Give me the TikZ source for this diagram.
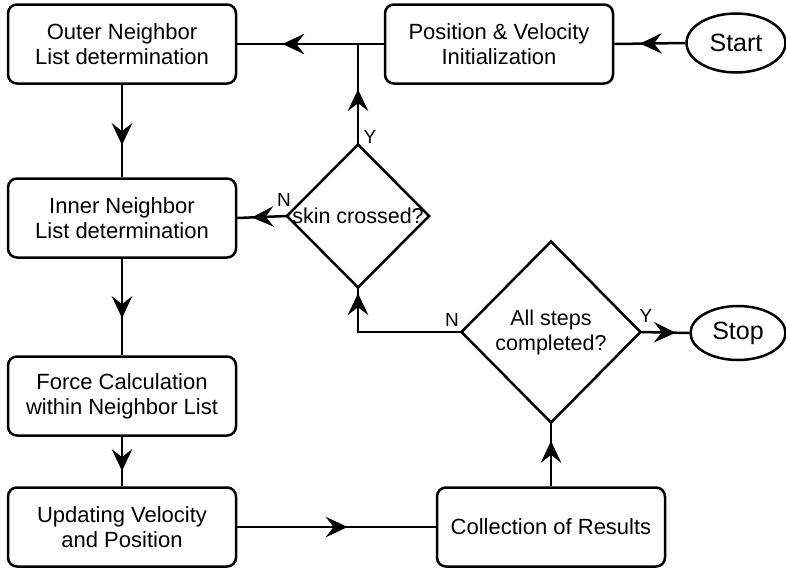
\documentclass[tikz,border=0pt]{standalone}
\usepackage{fontspec}
\setmainfont{Liberation Sans}
\usetikzlibrary{shapes.geometric,decorations.markings}

\begin{document}
\begin{tikzpicture}[x=1pt,y=-1pt,line width=2.5pt,
  box/.style={draw,rounded corners=9pt,minimum width=228pt,minimum height=79pt,
    align=center,inner sep=0pt,font=\fontsize{22}{25}\selectfont},
  term/.style={draw,ellipse,inner sep=0pt,font=\fontsize{25}{30}\selectfont},
  decision/.style={draw,diamond,inner sep=0pt,outer sep=0pt},
  dtext/.style={align=center,inner sep=0pt,font=\fontsize{21.5}{25}\selectfont},
  yn/.style={inner sep=0pt,font=\fontsize{19}{22}\selectfont},
  midarrow/.style={postaction={decorate},decoration={markings,
    mark=at position #1 with {\filldraw[line width=1pt,line join=miter]
      (0,0) -- (-19,9) -- (-12,0) -- (-19,-9) -- cycle;}}}
]
\useasboundingbox (0,0) rectangle (786,574);

% process boxes
\node[box] (outer) at (122,44)  {Outer Neighbor\\List determination};
\node[box] (pos)   at (499,44)  {Position \& Velocity\\Initialization};
\node[box] (inner) at (122,218) {Inner Neighbor\\List determination};
\node[box] (force) at (122,396) {Force Calculation\\within Neighbor List};
\node[box] (upd)   at (122,527) {Updating Velocity\\and Position};
\node[box] (coll)  at (551,527) {Collection of Results};

% terminals
\node[term,minimum width=99pt,minimum height=59pt] (start) at (736,43)  {Start};
\node[term,minimum width=95pt,minimum height=54pt] (stop)  at (738,333) {Stop};

% decisions
\node[decision,minimum width=142pt,minimum height=143pt] (skin) at (358,216) {};
\node[dtext] (skintext) at (skin.center) {skin crossed?};
\node[decision,minimum width=179pt,minimum height=181pt] (all) at (551,332) {};
\node[dtext] (alltext) at (all.center) {All steps\\completed?};

% junction on the top line
\coordinate (jn) at (skin.north |- pos.west);

% connectors, each with a filled arrowhead part-way along
\draw[midarrow=44pt]  (start.west) -- (pos.east);
\draw[midarrow=100pt] (pos.west) -- (outer.east);
\draw[midarrow=54pt]  (skin.north) -- (jn);
\draw[midarrow=59pt]  (outer.south) -- (inner.north);
\draw[midarrow=34pt]  (skin.west) -- (inner.east);
\draw[midarrow=58pt]  (inner.south) -- (force.north);
\draw[midarrow=33pt]  (force.south) -- (upd.north);
\draw[midarrow=109pt] (upd.east) -- (coll.west);
\draw[midarrow=44pt]  (coll.north) -- (all.south);
\draw[midarrow=34pt]  (all.east) -- (stop.west);
\draw[midarrow=141pt] (all.west) -| (skin.south);

% branch labels
\node[yn] (ly1) at (370,137) {Y};
\node[yn] (ln1) at (284,200) {N};
\node[yn] (ln2) at (452,320) {N};
\node[yn] (ly2) at (646,316) {Y};
\end{tikzpicture}
\end{document}
